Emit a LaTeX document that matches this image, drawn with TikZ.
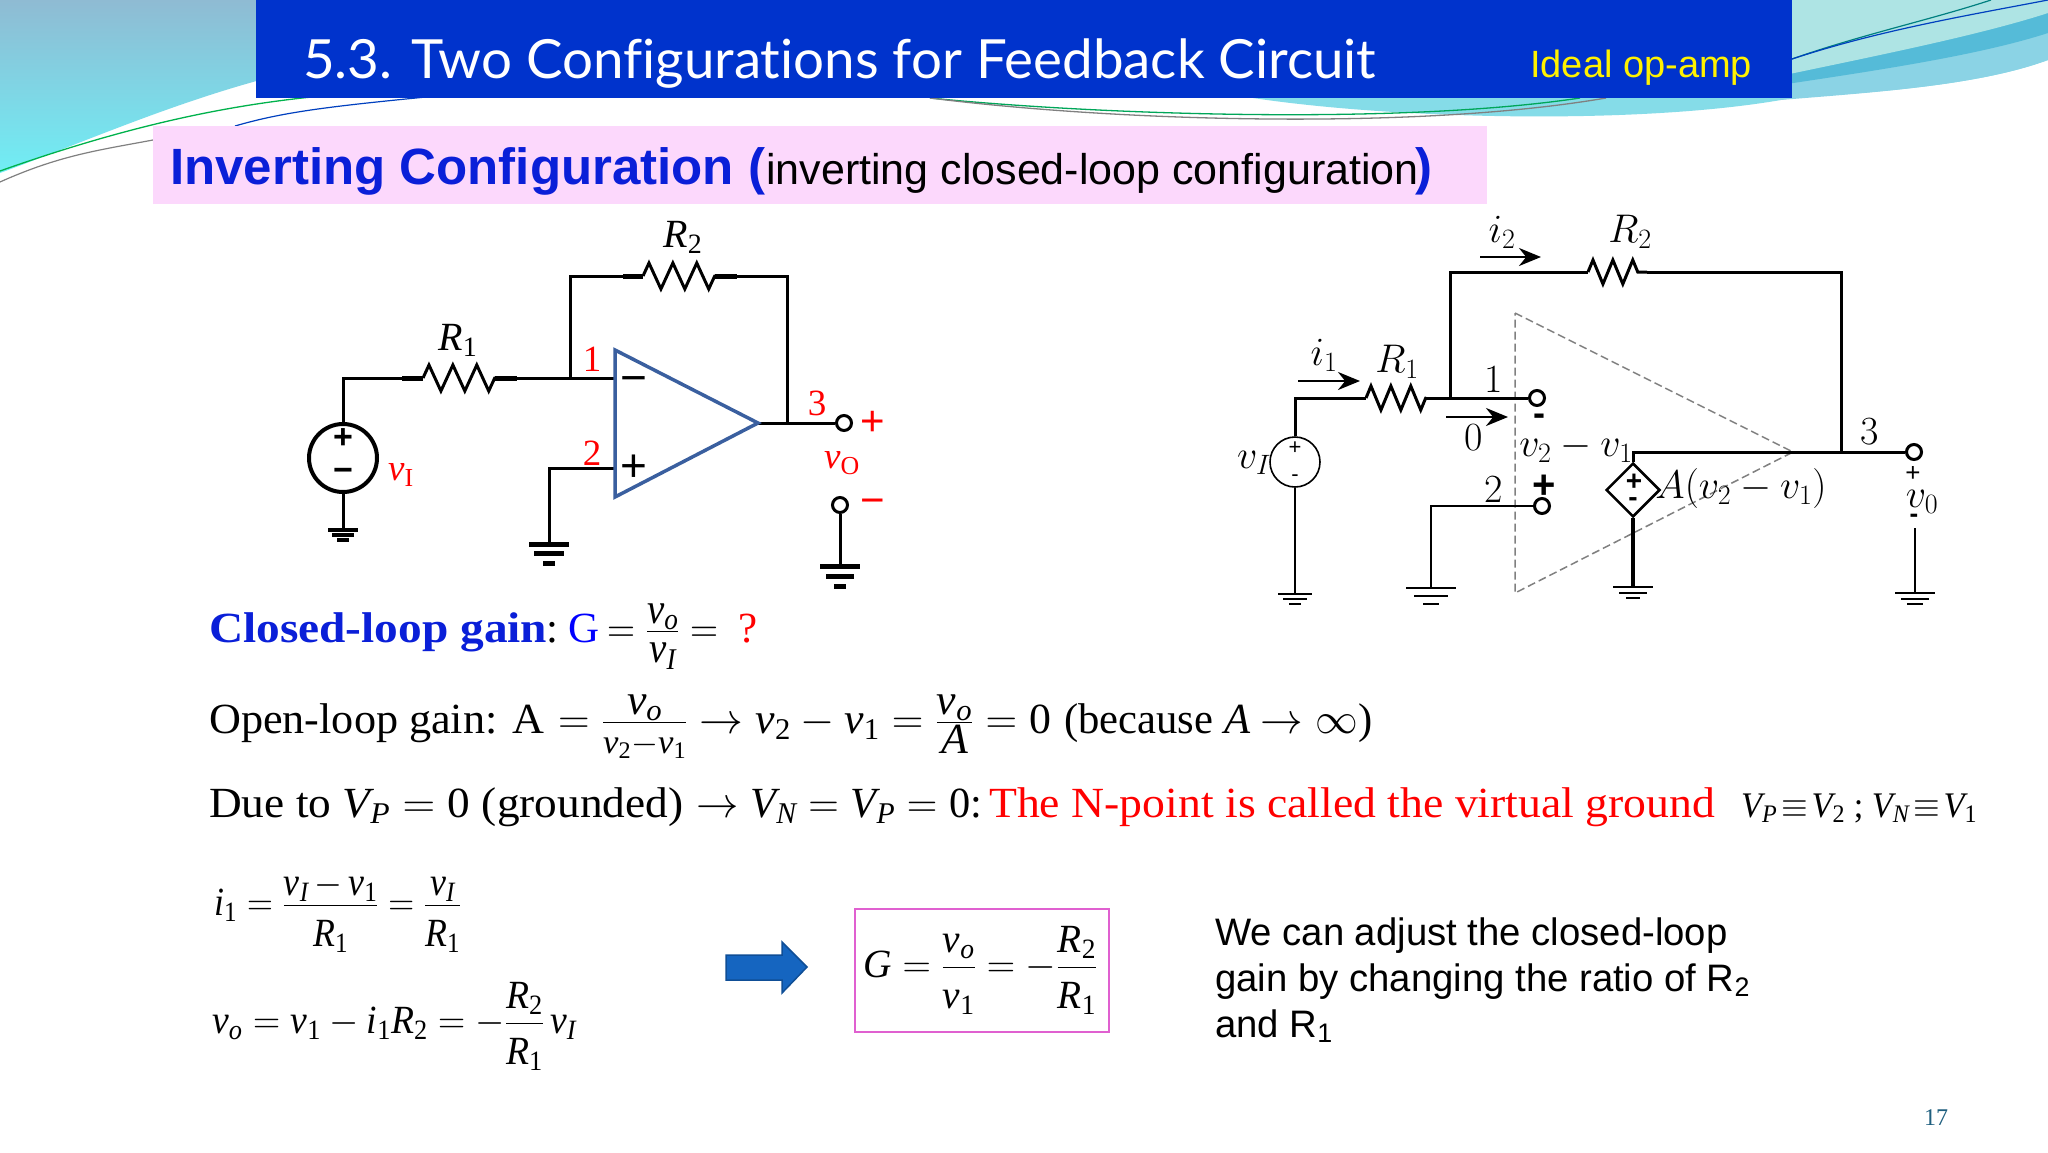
\documentclass[tikz,border=0pt]{standalone}
\usepackage{fix-cm}
\usepackage[no-math]{fontspec}
\usepackage{amsmath}
\usetikzlibrary{arrows.meta,decorations.pathmorphing,shapes.geometric}

\newfontfamily\serfam{Liberation Serif}[NFSSFamily=lsf]
\newfontfamily\sanfam{Liberation Sans}
\newfontfamily\headfam{Lato}[Ligatures=NoCommon]
\DeclareMathAlphabet{\ml}{TU}{lsf}{m}{it}
\DeclareMathAlphabet{\mr}{TU}{lsf}{m}{n}
\newcommand{\fs}[1]{\fontsize{#1}{#1}\selectfont}
\newcommand{\fitw}[2]{\resizebox{#1pt}{\height}{#2}}
\newcommand{\eqfr}[2]{{\textstyle\frac{\displaystyle #1}{\displaystyle\rule{0pt}{30pt}#2}}}
\newcommand{\mfr}[3][13]{{\textstyle\frac{\displaystyle\rule[-#1pt]{0pt}{0pt}#2}{\displaystyle\rule{0pt}{40pt}#3}}}

\definecolor{headblue}{HTML}{0033CC}
\definecolor{pinkbar}{HTML}{FCD8FC}
\definecolor{inkblue}{HTML}{0A1FD8}
\definecolor{opblue}{HTML}{3A5F9F}
\definecolor{arrowblue}{HTML}{1565C0}
\definecolor{arrowedge}{HTML}{0F4E96}
\definecolor{boxpink}{HTML}{E060D0}
\definecolor{pagenum}{HTML}{1F5F7F}
\definecolor{skytop}{HTML}{8FBBD3}
\definecolor{skylow}{HTML}{70EEF5}
\definecolor{waveun}{HTML}{85DCE8}
\definecolor{wavetop}{HTML}{AEE4E4}
\definecolor{wavemid}{HTML}{55BBD8}
\definecolor{wavelow}{HTML}{8BD3E5}

\tikzset{
  wire/.style={line width=3pt},
  thinwire/.style={line width=2.2pt},
  resist/.style={decorate,decoration={zigzag,amplitude=13pt,segment length=23.9pt}},
  resistb/.style={decorate,decoration={zigzag,amplitude=12pt,segment length=19.9pt}},
  port/.style={circle,draw,line width=3pt,fill=white,minimum size=15pt,inner sep=0pt},
  eq/.style={inner sep=0pt,anchor=base west,font=\serfam\fs{43}},
  low/.style={inner sep=0pt,anchor=base west,font=\serfam\fs{40}},
  redlbl/.style={inner sep=0pt,text=red,font=\serfam\fs{37}},
  blacklbl/.style={inner sep=0pt,font=\serfam\fs{40}},
  cmlbl/.style={inner sep=0pt,font=\fs{40}},
  signb/.style={inner sep=0pt,font=\sanfam\bfseries\fs{34}},
  note/.style={inner sep=0pt,anchor=base west,font=\sanfam\fs{38.3}},
  cur/.style={line width=2.5pt,-{Stealth[length=22pt,width=18pt]}},
  pics/gnd/.style n args={4}{code={
    \draw (-#1,0) -- (#1,0);
    \draw (-#2,#4) -- (#2,#4);
    \draw (-#3,2*#4) -- (#3,2*#4);
  }}
}

\begin{document}
\begin{tikzpicture}[x=1pt,y=-1pt]
  \fill[white] (0,0) rectangle (2048,1152);
  \useasboundingbox (0,0) rectangle (2048,1152);

  % Fondo superior
  \shade[top color=skytop,bottom color=skylow] (0,0) -- (300,0) -- (300,70) .. controls (190,95) and (90,140) .. (0,173) -- cycle;
  \fill[waveun] (1253,98) .. controls (1400,120) and (1650,125) .. (1792,98) .. controls (1880,92) and (1980,85) .. (2048,60) -- (2048,0) -- (1253,0) -- cycle;
  \fill[wavelow] (1780,100) .. controls (1880,92) and (1980,85) .. (2048,60) -- (2048,0) -- (1780,0) -- cycle;
  \fill[wavemid] (1780,85) .. controls (1880,70) and (1980,55) .. (2048,33) -- (2048,0) -- (1780,0) -- cycle;
  \fill[wavetop] (1780,76) .. controls (1880,55) and (1980,35) .. (2048,13) -- (2048,0) -- (1780,0) -- cycle;
  \draw[teal,line width=1.2pt] (1792,59) .. controls (1860,35) and (1930,20) .. (1991,0);
  \draw[blue!50!teal,line width=1.2pt] (1792,59) .. controls (1880,30) and (1970,15) .. (2048,0);
  \draw[teal!60!green,line width=1.3pt] (0,171) .. controls (200,100) and (330,90) .. (470,90);
  \draw[gray,line width=1.2pt] (0,182) .. controls (60,155) and (100,150) .. (153,140);
  \draw[blue!50!teal,line width=1.2pt] (235,126) .. controls (290,110) and (340,105) .. (500,90);
  \draw[teal!70!green,line width=1.3pt] (930,98) .. controls (1100,115) and (1400,125) .. (1580,98);
  \draw[gray,line width=1.3pt] (930,98) .. controls (1120,122) and (1420,130) .. (1606,98);

  % Barras de titulo
  \fill[headblue] (256,0) rectangle (1792,98);
  \fill[pinkbar] (153,126) rectangle (1487,204);
  \node[inner sep=0pt,anchor=base west,text=white,font=\headfam\fs{54}] (title) at (303,78) {\fitw{1073}{5.3. Two Configurations for Feedback Circuit}};
  \node[inner sep=0pt,anchor=base west,text=yellow,font=\sanfam\fs{38}] (ideal) at (1530,77) {Ideal op-amp};
  \node[inner sep=0pt,anchor=base west,text=inkblue,font=\sanfam\bfseries\fs{51}] (invname) at (170,184) {Inverting Configuration (};
  \node[inner sep=0pt,anchor=base west,font=\sanfam\fs{43}] (invnote) at (766,184) {inverting closed-loop configuration};
  \node[inner sep=0pt,anchor=base west,text=inkblue,font=\sanfam\bfseries\fs{51}] (invend) at (1415,184) {)};

  % Circuito izquierdo
  \node[circle,draw,line width=4pt,minimum size=68pt,inner sep=0pt] (srca) at (343,458) {};
  \coordinate (topa) at (343,378);
  \coordinate (ra1) at (402,378);
  \coordinate (ra2) at (423,378);
  \coordinate (ra3) at (495,378);
  \coordinate (ra4) at (517,378);
  \coordinate (junca) at (570,378);
  \coordinate (inva) at (615,378);
  \coordinate (fba) at (570,276);
  \coordinate (rb1) at (623,276);
  \coordinate (rb2) at (643,276);
  \coordinate (rb3) at (715,276);
  \coordinate (rb4) at (737,276);
  \coordinate (fbb) at (787,276);
  \coordinate (outa) at (787,423);
  \coordinate (apexa) at (758,423);
  \coordinate (noninva) at (615,468);
  \coordinate (gnda) at (549,468);
  \coordinate (gndb) at (549,544);
  \coordinate (gndc) at (343,530);
  \node[port] (vop) at (844,423) {};
  \node[port] (vom) at (840,505) {};
  \coordinate (gndd) at (840,566);

  \draw[wire] (srca.north) -- (topa) -- (ra1);
  \draw[wire,line width=5pt] (ra1) -- (ra2);
  \draw[wire,resist] (ra2) -- (ra3);
  \draw[wire,line width=5pt] (ra3) -- (ra4);
  \draw[wire] (ra4) -- (inva);
  \draw[wire] (junca) -- (fba) -- (rb1);
  \draw[wire,line width=5pt] (rb1) -- (rb2);
  \draw[wire,resist] (rb2) -- (rb3);
  \draw[wire,line width=5pt] (rb3) -- (rb4);
  \draw[wire] (rb4) -- (fbb) -- (outa);
  \draw[wire] (apexa) -- (vop);
  \draw[wire] (noninva) -- (gnda) -- (gndb);
  \draw[wire] (srca.south) -- (gndc);
  \draw[wire] (vom) -- (gndd);
  \draw[line width=3.5pt,opblue,line join=miter] (615,350) -- (apexa) -- (615,497) -- cycle;
  \pic[line width=3.5pt] at (gndc) {gnd={15}{11}{6}{5}};
  \pic[line width=5pt] at (gndb) {gnd={20}{15}{6}{9.5}};
  \pic[line width=5pt] at (gndd) {gnd={20}{14}{6}{10}};

  \node[signb] (srcplus) at (343,439) {+};
  \node[signb] (srcminus) at (343,475) {−};
  \node[signb,font=\sanfam\fs{46}] (opminus) at (634,385) {−};
  \node[signb,font=\sanfam\fs{46}] (opplus) at (634,468) {+};
  \node[signb,text=red,font=\sanfam\fs{42}] (outplus) at (873,423) {+};
  \node[signb,text=red,font=\sanfam\fs{42}] (outminus) at (873,507) {−};
  \node[blacklbl] (laba) at (458,340) {$\ml{R}_{\mr{1}}$};
  \node[blacklbl] (labb) at (683,237) {$\ml{R}_{\mr{2}}$};
  \node[redlbl] (nodea) at (592,359) {1};
  \node[redlbl] (nodeb) at (592,453) {2};
  \node[redlbl] (nodec) at (817,403) {3};
  \node[redlbl] (labvi) at (401,475) {$\ml{v}_{\mr{I}}$};
  \node[redlbl] (labvo) at (842,463) {$\ml{v}_{\mr{O}}$};

  % Circuito derecho
  \draw[gray,dash pattern=on 8pt off 4pt,line width=1.5pt] (1515,313) -- (1793,452) -- (1515,593) -- cycle;
  \node[circle,draw,line width=1.6pt,minimum size=50pt,inner sep=0pt] (srcb) at (1295,462) {};
  \coordinate (topb) at (1295,398);
  \coordinate (rc1) at (1366,398);
  \coordinate (rc2) at (1426,398);
  \coordinate (juncb) at (1450,398);
  \coordinate (fbc) at (1450,272);
  \coordinate (rd1) at (1588,272);
  \coordinate (rd2) at (1647,272);
  \coordinate (fbd) at (1841,272);
  \coordinate (outb) at (1841,452);
  \coordinate (ctrl) at (1633,452);
  \coordinate (gnde) at (1295,594);
  \coordinate (inb) at (1431,506);
  \coordinate (gndf) at (1431,588);
  \coordinate (gndg) at (1633,587);
  \coordinate (vnb) at (1915,528);
  \coordinate (gndh) at (1915,593);
  \node[port] (portone) at (1537,398) {};
  \node[port] (porttwo) at (1542,506) {};
  \node[port] (portout) at (1914,452) {};
  \node[draw,diamond,aspect=1,line width=2.5pt,minimum size=54pt,inner sep=0pt] (dep) at (1633,490) {};

  \draw[wire] (srcb.north) -- (topb) -- (rc1);
  \draw[wire,resistb] (rc1) -- (rc2);
  \draw[wire] (rc2) -- (portone);
  \draw[wire] (juncb) -- (fbc) -- (rd1);
  \draw[wire,resistb] (rd1) -- (rd2);
  \draw[wire] (rd2) -- (fbd) -- (outb);
  \draw[wire] (dep.north) -- (ctrl) -- (portout);
  \draw[thinwire] (srcb.south) -- (gnde);
  \draw[thinwire] (porttwo) -- (inb) -- (gndf);
  \draw[wire,line width=3.5pt] (dep.south) -- (gndg);
  \draw[line width=1.5pt] (vnb) -- (gndh);
  \pic[line width=2pt] at (gnde) {gnd={17}{12}{6}{5}};
  \pic[line width=2pt] at (gndf) {gnd={25}{17}{8}{8}};
  \pic[line width=2pt] at (gndg) {gnd={20}{14}{7}{5.5}};
  \pic[line width=2pt] at (gndh) {gnd={20}{14}{8}{5.5}};

  \coordinate (curaa) at (1298,381);
  \coordinate (curab) at (1360,381);
  \coordinate (curba) at (1480,257);
  \coordinate (curbb) at (1541,257);
  \coordinate (curca) at (1446,417);
  \coordinate (curcb) at (1508,417);
  \draw[cur] (curaa) -- (curab);
  \draw[cur] (curba) -- (curbb);
  \draw[cur] (curca) -- (curcb);

  \node[cmlbl] (labi) at (1324,355) {$i_1$};
  \node[cmlbl] (labj) at (1502,232) {$i_2$};
  \node[cmlbl] (labc) at (1397,362) {$R_1$};
  \node[cmlbl] (labd) at (1630,232) {$R_2$};
  \node[cmlbl] (numa) at (1494,379) {1};
  \node[cmlbl] (numb) at (1494,489) {2};
  \node[cmlbl] (numc) at (1870,432) {3};
  \node[cmlbl] (zero) at (1474,438) {0};
  \node[cmlbl] (labdiff) at (1576,448) {$v_2-v_1$};
  \node[cmlbl] (labgain) at (1741,488) {$A(v_2-v_1)$};
  \node[cmlbl] (labvib) at (1254,463) {$v_I$};
  \node[cmlbl] (labvob) at (1922,502) {$v_0$};
  \node[signb,font=\sanfam\fs{22}] (sbp) at (1295,448) {+};
  \node[signb,font=\sanfam\fs{22}] (sbm) at (1295,478) {-};
  \node[signb,font=\sanfam\bfseries\fs{36}] (oneminus) at (1539,420) {-};
  \node[signb,font=\sanfam\bfseries\fs{40}] (twoplus) at (1544,487) {+};
  \node[signb,font=\sanfam\bfseries\fs{28}] (depp) at (1634,482) {+};
  \node[signb,font=\sanfam\bfseries\fs{28}] (depm) at (1633,502) {-};
  \node[signb,font=\sanfam\fs{26}] (vop2) at (1913,474) {+};
  \node[signb,font=\sanfam\bfseries\fs{26}] (vom2) at (1914,518) {-};

  % Ecuaciones
  \node[eq,text=inkblue] (closed) at (209,642) {\fitw{338}{\bfseries Closed-loop gain}};
  \node[eq] (colon) at (546,642) {:};
  \node[eq,text=blue] (gname) at (568,642) {G};
  \node[eq] (closedfr) at (607,642) {\fitw{111}{$=\eqfr{\ml{v}_{\ml{o}}}{\ml{v}_{\ml{I}}}=$}};
  \node[eq,text=red] (quest) at (738,642) {?};
  \node[eq] (opena) at (209,733) {\fitw{335}{Open-loop gain: A}};
  \node[eq] (openb) at (558,733) {\fitw{493}{$=\eqfr{\ml{v}_{\ml{o}}}{\mbox{\fs{34}$\ml{v}_{\mr{2}}{-}\ml{v}_{\mr{1}}$}}\rightarrow\ml{v}_{\mr{2}}-\ml{v}_{\mr{1}}=\eqfr{\ml{v}_{\ml{o}}}{\ml{A}}=\mr{0}$}};
  \node[eq] (openc) at (1064,733) {\fitw{308}{(because \textit{A} $\rightarrow\infty$)}};
  \node[eq] (duea) at (209,817) {\fitw{474}{Due to $\ml{V}_{\ml{P}}=\mr{0}$ (grounded)}};
  \node[eq] (dueb) at (696,817) {\fitw{286}{$\rightarrow\ml{V}_{\ml{N}}=\ml{V}_{\ml{P}}=\mr{0}$:}};
  \node[eq,text=red] (virt) at (989,817) {\fitw{726}{The N-point is called the virtual ground}};
  \node[eq,font=\serfam\fs{36}] (equiv) at (1741,817) {\fitw{236}{$\ml{V}_{\ml{P}}\!\equiv\!\ml{V}_{\mr{2}}$ ; $\ml{V}_{\ml{N}}\!\equiv\!\ml{V}_{\mr{1}}$}};

  \node[low] (curreq) at (214,915) {\fitw{247}{$\ml{i}_{\mr{1}}=\mfr[8]{\ml{v}_{\ml{I}}\,{-}\,\ml{v}_{\mr{1}}}{\ml{R}_{\mr{1}}}=\mfr[8]{\ml{v}_{\ml{I}}}{\ml{R}_{\mr{1}}}$}};
  \node[low] (volteq) at (212,1033) {\fitw{364}{$\ml{v}_{\ml{o}}=\ml{v}_{\mr{1}}-\ml{i}_{\mr{1}}\ml{R}_{\mr{2}}=-\mfr{\ml{R}_{\mr{2}}}{\ml{R}_{\mr{1}}}\,\ml{v}_{\ml{I}}$}};

  % Flecha y recuadro
  \fill[arrowblue,draw=arrowedge,line width=1.5pt] (726,955) -- (782,955) -- (782,942) -- (807,967) -- (782,993) -- (782,980) -- (726,980) -- cycle;
  \node[draw=boxpink,line width=2pt,inner sep=0pt,minimum width=254pt,minimum height=123pt] (gainbox) at (981.5,970.5) {};
  \node[low] (gaineq) at (863,977) {\fitw{234}{$\ml{G}=\mfr{\ml{v}_{\ml{o}}}{\ml{v}_{\mr{1}}}=-\mfr{\ml{R}_{\mr{2}}}{\ml{R}_{\mr{1}}}$}};

  % Texto derecho
  \node[note] (notea) at (1215,945) {We can adjust the closed-loop};
  \node[note] (noteb) at (1215,991) {gain by changing the ratio of R\textsubscript{2}};
  \node[note] (notec) at (1215,1037) {and R\textsubscript{1}};
  \node[inner sep=0pt,text=pagenum,font=\serfam\fs{24}] (pageno) at (1936,1118) {17};
\end{tikzpicture}
\end{document}
